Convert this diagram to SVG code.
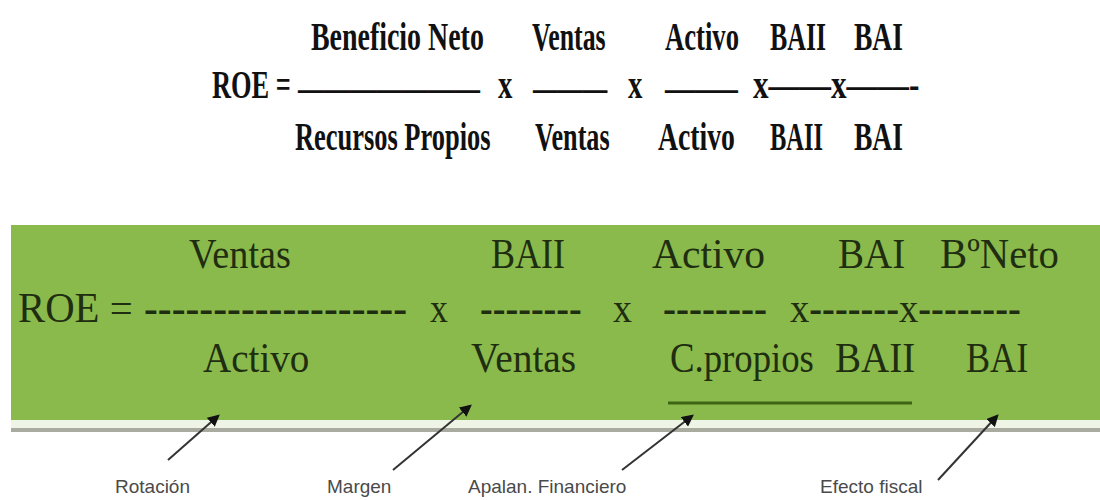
<svg xmlns="http://www.w3.org/2000/svg" width="1100" height="500" viewBox="0 0 1100 500">
<defs>
<style>
.t{font-family:"Liberation Serif","Times New Roman",serif;font-weight:bold;font-size:40px;fill:#111}
.g{font-family:"Liberation Serif","Times New Roman",serif;font-size:42px;fill:#1f2e10}
.d{font-family:"Liberation Serif","Times New Roman",serif;font-weight:bold;font-size:42px;fill:#1f2e10}
.l{font-family:"Liberation Sans",Arial,sans-serif;font-size:19px;fill:#4a4a4a}
.arr{stroke:#333;stroke-width:2;fill:none;marker-end:url(#ah)}
</style>
<marker id="ah" viewBox="0 0 10 10" refX="8" refY="5" markerWidth="6" markerHeight="6" orient="auto" markerUnits="strokeWidth">
<path d="M0,0 L10,5 L0,10 z" fill="#111"/>
</marker>
</defs>
<rect width="1100" height="500" fill="#ffffff"/>
<g id="top-formula">
<text class="t" transform="translate(311,50) scale(0.698,1)">Beneficio Neto</text>
<text class="t" transform="translate(532,50) scale(0.645,1)">Ventas</text>
<text class="t" transform="translate(665,50) scale(0.666,1)">Activo</text>
<text class="t" transform="translate(770,50) scale(0.646,1)">BAII</text>
<text class="t" transform="translate(854,50) scale(0.689,1)">BAI</text>
<text class="t" transform="translate(212,98) scale(0.66,1)">ROE =</text>
<text class="t" transform="translate(298,101) scale(0.65,1)">———————</text>
<text class="t" transform="translate(498,98) scale(0.72,1)">x</text>
<text class="t" transform="translate(533,101) scale(0.62,1)">———</text>
<text class="t" transform="translate(628,98) scale(0.72,1)">x</text>
<text class="t" transform="translate(665,101) scale(0.73,1)">——–</text>
<text class="t" transform="translate(753,98) scale(0.78,1)">x——x——-</text>
<text class="t" transform="translate(295,150) scale(0.661,1)">Recursos Propios</text>
<text class="t" transform="translate(535,150) scale(0.654,1)">Ventas</text>
<text class="t" transform="translate(658,150) scale(0.693,1)">Activo</text>
<text class="t" transform="translate(770,150) scale(0.611,1)">BAII</text>
<text class="t" transform="translate(854,150) scale(0.689,1)">BAI</text>
</g>
<g id="green-band">
<rect x="11" y="225" width="1089" height="195" fill="#8aba4c"/>
<rect x="11" y="420" width="1089" height="8" fill="#eef4e6"/>
<rect x="11" y="428" width="1089" height="4" fill="#a9aba0"/>
<line x1="668" y1="403" x2="912" y2="403" stroke="#3c6414" stroke-width="3"/>
</g>
<g id="green-formula">
<text class="g" transform="translate(189,268) scale(0.91,1)">Ventas</text>
<text class="g" transform="translate(491,268) scale(0.857,1)">BAII</text>
<text class="g" transform="translate(652,268) scale(0.99,1)">Activo</text>
<text class="g" transform="translate(838,268) scale(0.93,1)">BAI</text>
<text class="g" transform="translate(940,268) scale(0.97,1)">BºNeto</text>
<text class="g" transform="translate(18,322) scale(0.97,1)">ROE =</text>
<text class="d" transform="translate(144,322) scale(0.99,1)">-------------------</text>
<text class="g" transform="translate(430,322) scale(0.85,1)">x</text>
<text class="d" transform="translate(480,322) scale(0.91,1)">--------</text>
<text class="g" transform="translate(613,322) scale(0.9,1)">x</text>
<text class="d" transform="translate(663,322) scale(0.93,1)">--------</text>
<text class="g" transform="translate(790,322) scale(0.917,1)">x<tspan class="d">-------</tspan>x<tspan class="d">--------</tspan></text>
<text class="g" transform="translate(203,372) scale(0.93,1)">Activo</text>
<text class="g" transform="translate(471,372) scale(0.94,1)">Ventas</text>
<text class="g" transform="translate(670,372) scale(0.875,1)">C.propios</text>
<text class="g" transform="translate(835,372) scale(0.93,1)">BAII</text>
<text class="g" transform="translate(966,372) scale(0.86,1)">BAI</text>
</g>
<g id="connectors">
<line class="arr" x1="168" y1="460" x2="218" y2="416"/>
<line class="arr" x1="393" y1="470" x2="470" y2="406"/>
<line class="arr" x1="622" y1="470" x2="692" y2="416"/>
<line class="arr" x1="938" y1="480" x2="997" y2="416"/>
</g>
<g id="label-rotacion"><text class="l" x="115" y="493">Rotación</text></g>
<g id="label-margen"><text class="l" x="327" y="493">Margen</text></g>
<g id="label-apalan"><text class="l" x="468" y="493">Apalan. Financiero</text></g>
<g id="label-efecto"><text class="l" x="820" y="493">Efecto fiscal</text></g>
</svg>
